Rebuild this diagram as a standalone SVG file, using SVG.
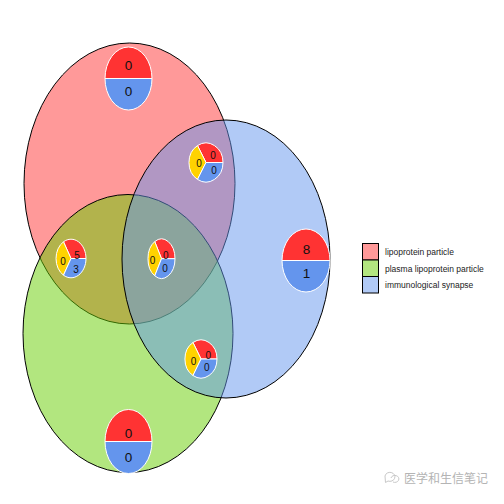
<svg xmlns="http://www.w3.org/2000/svg" width="504" height="504" viewBox="0 0 504 504">
<style>
.set{stroke:#000;stroke-width:1;fill-opacity:0.5}
.pr{fill:#FF3333;stroke:#fff;stroke-width:1}
.pb{fill:#6495ED;stroke:#fff;stroke-width:1}
.py{fill:#FFD200;stroke:#fff;stroke-width:1}
.big{font-family:"Liberation Sans",Arial,sans-serif;font-size:13.5px;fill:#111;text-anchor:middle}
.sm{font-family:"Liberation Sans",Arial,sans-serif;font-size:10px;fill:#111;text-anchor:middle}
.lg{font-family:"Liberation Sans",Arial,sans-serif;font-size:8.5px;fill:#222}
.sw{stroke:#000;stroke-width:1}
</style>
<rect width="504" height="504" fill="#fff"/>
<g id="sets">
<ellipse id="set-lipoprotein" class="set" cx="129.5" cy="183.5" rx="105.5" ry="140.5" fill="#FF3333"/>
<ellipse id="set-plasma" class="set" cx="128" cy="333.5" rx="105" ry="139" fill="#66CD00"/>
<ellipse id="set-immuno" class="set" cx="226" cy="259" rx="104" ry="139" fill="#6495ED"/>
</g>
<g id="connectors"></g>
<g id="pie-top">
<path class="pr" d="M105,78.5 A23.5,31.5 0 0 1 152,78.5 Z"/>
<path class="pb" d="M152,78.5 A23.5,31.5 0 0 1 105,78.5 Z"/>
<text class="big" x="128.5" y="70">0</text>
<text class="big" x="128.5" y="95.5">0</text>
</g>
<g id="pie-right">
<path class="pr" d="M282,260.5 A24,31.5 0 0 1 330,260.5 Z"/>
<path class="pb" d="M330,260.5 A24,31.5 0 0 1 282,260.5 Z"/>
<text class="big" x="306.5" y="254">8</text>
<text class="big" x="306.5" y="278">1</text>
</g>
<g id="pie-bottom">
<path class="pr" d="M105,441.5 A23.5,32 0 0 1 152,441.5 Z"/>
<path class="pb" d="M152,441.5 A23.5,32 0 0 1 105,441.5 Z"/>
<text class="big" x="128.5" y="437.5">0</text>
<text class="big" x="128.5" y="461.5">0</text>
</g>
<g id="pie-red-blue">
<path class="pr" d="M206,162.5 L223,162.5 A17,19.5 0 0 0 197.5,145.6 Z"/>
<path class="py" d="M206,162.5 L197.5,145.6 A17,19.5 0 0 0 197.5,179.4 Z"/>
<path class="pb" d="M206,162.5 L197.5,179.4 A17,19.5 0 0 0 223,162.5 Z"/>
<text class="sm" x="199" y="166.6">0</text>
<text class="sm" x="213" y="158.6">0</text>
<text class="sm" x="214" y="173.6">0</text>
</g>
<g id="pie-red-green">
<path class="pr" d="M71,258.5 L86,258.5 A15,19.3 0 0 0 63.5,241.8 Z"/>
<path class="py" d="M71,258.5 L63.5,241.8 A15,19.3 0 0 0 63.5,275.2 Z"/>
<path class="pb" d="M71,258.5 L63.5,275.2 A15,19.3 0 0 0 86,258.5 Z"/>
<text class="sm" x="63" y="264.6">0</text>
<text class="sm" x="77" y="258.6">5</text>
<text class="sm" x="76" y="272.6">3</text>
</g>
<g id="pie-center">
<path class="pr" d="M161.5,258.7 L175,258.7 A13.5,19.7 0 0 0 154.75,241.6 Z"/>
<path class="py" d="M161.5,258.7 L154.75,241.6 A13.5,19.7 0 0 0 154.75,275.8 Z"/>
<path class="pb" d="M161.5,258.7 L154.75,275.8 A13.5,19.7 0 0 0 175,258.7 Z"/>
<text class="sm" x="152.5" y="264.3">0</text>
<text class="sm" x="165.7" y="259.3">0</text>
<text class="sm" x="165" y="271.9">0</text>
</g>
<g id="pie-green-blue">
<path class="pr" d="M201,359 L217,359 A16,19 0 0 0 193,342.5 Z"/>
<path class="py" d="M201,359 L193,342.5 A16,19 0 0 0 193,375.5 Z"/>
<path class="pb" d="M201,359 L193,375.5 A16,19 0 0 0 217,359 Z"/>
<text class="sm" x="193.5" y="364.6">0</text>
<text class="sm" x="208.3" y="358.6">0</text>
<text class="sm" x="206.7" y="370.9">0</text>
</g>
<g id="legend">
<rect class="sw" x="362.5" y="243.5" width="16" height="16.5" fill="#FF9999"/>
<rect class="sw" x="362.5" y="260" width="16" height="16.5" fill="#B3E680"/>
<rect class="sw" x="362.5" y="276.5" width="16" height="16.5" fill="#B1CAF6"/>
<text class="lg" x="385" y="254.8">lipoprotein particle</text>
<text class="lg" x="385" y="271.5">plasma lipoprotein particle</text>
<text class="lg" x="385" y="288">immunological synapse</text>
</g>
<g id="watermark">
<path d="M385,476 a5,4.5 0 1 1 3,5 l-2.5,1.5 z" fill="none" stroke="#c8c8c8" stroke-width="1"/>
<path d="M391,478 a4,3.5 0 1 1 2,4" fill="none" stroke="#c8c8c8" stroke-width="1"/>
<text x="404" y="482.5" font-family="'Noto Sans CJK SC',sans-serif" font-size="12" fill="#b4b4b4">医学和生信笔记</text>
</g>
</svg>
